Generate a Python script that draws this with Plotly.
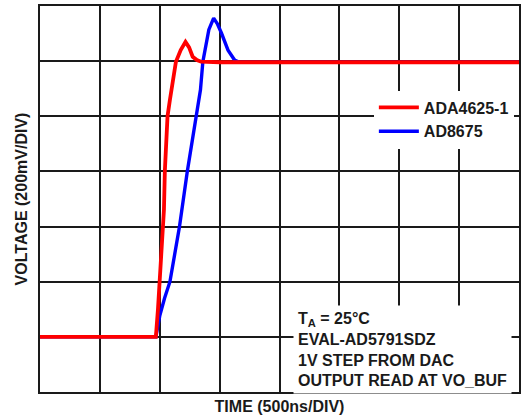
import plotly.graph_objects as go

# time in divisions (500 ns/DIV), voltage in divisions (200 mV/DIV)
red_name = "ADA4625-1"
red_x = [0, 0.5, 1.0, 1.5, 1.935, 1.97, 2.0, 2.03, 2.06, 2.07, 2.085, 2.13, 2.17, 2.21, 2.27, 2.35, 2.43, 2.49, 2.55, 2.62, 2.69, 3.0, 4.0, 5.0, 6.0, 7.0, 8.0]
red_y = [1.0, 1.0, 1.0, 1.0, 1.0, 1.5, 2.0, 2.5, 3.0, 3.3, 4.0, 5.0, 5.3, 5.6, 5.99, 6.2, 6.35, 6.25, 6.08, 6.02, 5.99, 5.98, 5.98, 5.98, 5.98, 5.98, 5.98]

blue_name = "AD8675"
blue_x = [0, 0.5, 1.0, 1.5, 1.935, 2.0, 2.08, 2.17, 2.25, 2.33, 2.46, 2.61, 2.68, 2.72, 2.82, 2.90, 2.96, 3.03, 3.14, 3.25, 3.33, 4.0, 5.0, 6.0, 7.0, 8.0]
blue_y = [1.0, 1.0, 1.0, 1.0, 1.0, 1.38, 1.7, 2.0, 2.5, 3.0, 4.0, 5.0, 5.48, 5.99, 6.57, 6.78, 6.68, 6.51, 6.20, 6.02, 5.98, 5.98, 5.98, 5.98, 5.98, 5.98]

x_title = "TIME (500ns/DIV)"
y_title = "VOLTAGE (200mV/DIV)"
note_lines = ["T<sub>A</sub> = 25°C", "EVAL-AD5791SDZ", "1V STEP FROM DAC", "OUTPUT READ AT VO_BUF"]

FONT = "Liberation Sans, Arial, sans-serif"

fig = go.Figure()
fig.add_trace(go.Scatter(x=blue_x, y=blue_y, mode="lines", name=blue_name,
                         line=dict(color="#0000ff", width=3.4), legendrank=2))
fig.add_trace(go.Scatter(x=red_x, y=red_y, mode="lines", name=red_name,
                         line=dict(color="#ff0000", width=3.8), legendrank=1))

axis_common = dict(showticklabels=False, ticks="", showgrid=True, gridcolor="#1a1a1a",
                   gridwidth=1.5, zeroline=False, showline=True, linecolor="#1a1a1a",
                   linewidth=2, mirror=True, fixedrange=True)
fig.update_xaxes(range=[0, 8], dtick=1, tick0=0,
                 title=dict(text=x_title, font=dict(family=FONT, size=16, color="#1a1a1a", weight="bold"), standoff=8),
                 **axis_common)
fig.update_yaxes(range=[0, 7], dtick=1, tick0=0,
                 title=dict(text=y_title, font=dict(family=FONT, size=16, color="#1a1a1a", weight="bold"), standoff=6),
                 **axis_common)

fig.add_annotation(xref="paper", yref="paper", x=0.528, y=0.225, xanchor="left", yanchor="top",
                   text="<br>".join(note_lines), align="left", showarrow=False,
                   bgcolor="white", borderpad=4,
                   font=dict(family=FONT, size=16, color="#1a1a1a", weight="bold"))

fig.update_layout(
    width=524, height=419,
    margin=dict(l=40, r=3, t=6, b=27),
    paper_bgcolor="white", plot_bgcolor="white",
    font=dict(family=FONT, color="#1a1a1a"),
    legend=dict(x=0.697, y=0.781, xanchor="left", yanchor="top", bgcolor="white",
                font=dict(family=FONT, size=16, color="#1a1a1a", weight="bold"),
                itemwidth=40, tracegroupgap=0),
    showlegend=True,
)

fig.write_html("out.html", config={"displayModeBar": False},
               post_script="document.body.style.margin='0';")
